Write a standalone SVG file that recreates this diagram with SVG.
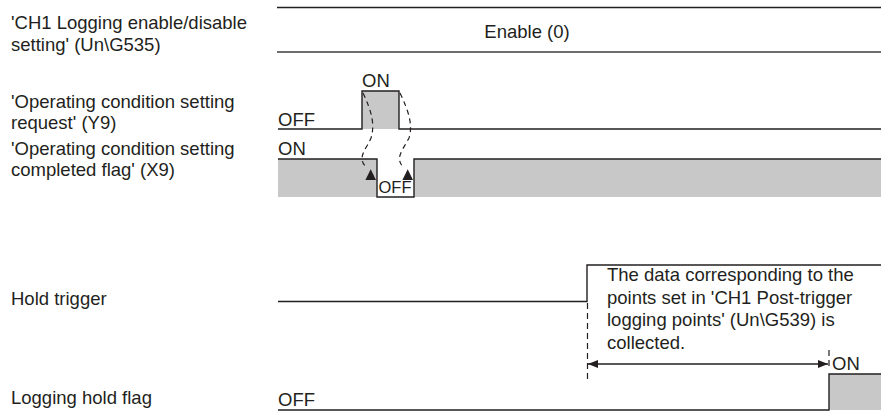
<svg xmlns="http://www.w3.org/2000/svg" width="881" height="412" viewBox="0 0 881 412">
<style>
text{font-family:"Liberation Sans",Arial,sans-serif;font-size:18.5px;fill:#231f20}
.sig{fill:none;stroke:#231f20;stroke-width:1.4}
.fill{fill:#c8c8c8;stroke:none}
.dash{fill:none;stroke:#231f20;stroke-width:1.2;stroke-dasharray:5 4}
.dv{fill:none;stroke:#231f20;stroke-width:1.2;stroke-dasharray:6 4}
.tri{fill:#231f20}
</style>
<defs>
<marker id="ah" viewBox="0 0 10 8" refX="10" refY="4" markerWidth="10" markerHeight="8" markerUnits="userSpaceOnUse" orient="auto-start-reverse">
<path d="M0,0 L10,4 L0,8 Z" fill="#231f20"/>
</marker>
</defs>
<g id="labels">
<text x="11" y="29">'CH1 Logging enable/disable</text>
<text x="11" y="50.5">setting' (Un\G535)</text>
<text x="11" y="107.5">'Operating condition setting</text>
<text x="11" y="129">request' (Y9)</text>
<text x="11" y="154.5">'Operating condition setting</text>
<text x="11" y="176">completed flag' (X9)</text>
<text x="11" y="305">Hold trigger</text>
<text x="11" y="403.5">Logging hold flag</text>
</g>
<g id="sig-enable">
<line x1="277" y1="7.5" x2="881" y2="7.5" stroke="#231f20" stroke-width="1.6"/>
<line x1="277" y1="52" x2="881" y2="52" stroke="#6d6d6d" stroke-width="2"/>
<text x="527" y="37.5" text-anchor="middle">Enable (0)</text>
</g>
<g id="sig-y9">
<rect class="fill" x="362" y="91" width="37" height="38"/>
<path class="sig" d="M278,129 H362 V91 H399 V129 H881"/>
<text x="362" y="87">ON</text>
<text x="278" y="125.5">OFF</text>
</g>
<g id="sig-x9">
<rect class="fill" x="278" y="159" width="99" height="38"/>
<rect class="fill" x="414" y="159" width="467" height="38"/>
<path class="sig" d="M278,159 H377 V197 H414 V159 H881"/>
<text x="278" y="155">ON</text>
<text x="378.5" y="193" style="font-size:16.5px">OFF</text>
</g>
<g id="sig-hold-trigger">
<path class="sig" d="M278,301.5 H587 V265 H881"/>
<text x="607" y="281">The data corresponding to the</text>
<text x="607" y="303.5">points set in 'CH1 Post-trigger</text>
<text x="607" y="326">logging points' (Un\G539) is</text>
<text x="607" y="348.5">collected.</text>
</g>
<g id="sig-hold-flag">
<rect class="fill" x="829" y="374" width="52" height="36"/>
<path class="sig" d="M278,410 H829 V374 H881" stroke="#555"/>
<text x="832" y="370">ON</text>
<text x="278" y="406">OFF</text>
</g>
<g id="connectors">
<path class="dash" d="M363,93 C372,112 375,125 371,138 C366,150 356,158 367,168"/>
<path class="dash" d="M400,93 C409,112 413,125 409,138 C403,150 394,158 404,168"/>
<path class="tri" d="M370.7,169.3 L376,180 L365.4,180 Z"/>
<path class="tri" d="M407.7,169.3 L413,180 L402.4,180 Z"/>
<line class="dv" x1="587.5" y1="303" x2="587.5" y2="382"/>
<line class="dv" x1="829" y1="350" x2="829" y2="366"/>
<line x1="588" y1="364" x2="828" y2="364" stroke="#231f20" stroke-width="1.4" marker-start="url(#ah)" marker-end="url(#ah)"/>
</g>
</svg>
